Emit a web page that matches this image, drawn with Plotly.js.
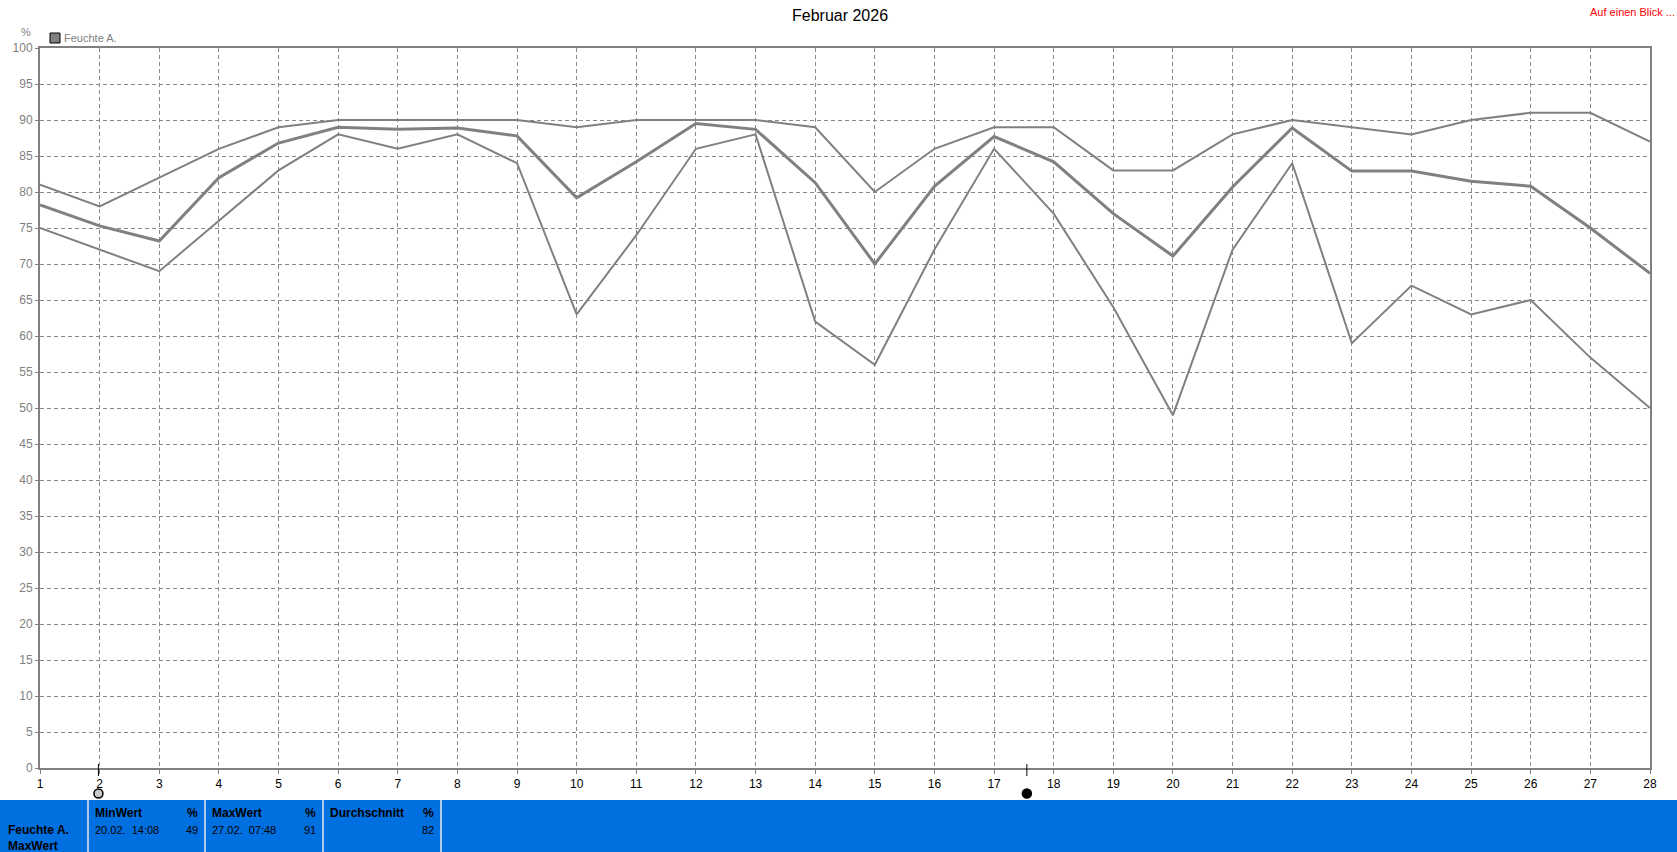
<!DOCTYPE html>
<html>
<head>
<meta charset="utf-8">
<script src="https://cdn.plot.ly/plotly-3.0.1.min.js"></script>
<style>
    html, body { margin: 0; padding: 0; background: #fff; overflow: hidden; }
    #chart { width: 1677px; height: 852px; }
</style>
</head>
<body>
<div id="chart"></div>
<script>
let days = [1, 2, 3, 4, 5, 6, 7, 8, 9, 10, 11, 12, 13, 14, 15, 16, 17, 18, 19, 20, 21, 22, 23, 24, 25, 26, 27, 28];
let maxValues = [81, 78, 82, 86, 89, 90, 90, 90, 90, 89, 90, 90, 90, 89, 80, 86, 89, 89, 83, 83, 88, 90, 89, 88, 90, 91, 91, 87];
let avgValues = [78.2, 75.3, 73.2, 82, 86.8, 89, 88.7, 88.9, 87.8, 79.2, 84.2, 89.5, 88.7, 81.3, 70, 80.8, 87.7, 84.2, 77, 71.1, 80.7, 88.9, 82.9, 82.9, 81.5, 80.8, 75, 68.7];
let minValues = [75, 72, 69, 76, 83, 88, 86, 88, 84, 63, 74, 86, 88, 62, 56, 72, 86, 77, 64, 49, 72, 84, 59, 67, 63, 65, 57, 50];

let moonDays = [1.98, 17.55];
let moonFills = ['#c8c8c8', '#000000'];

let seriesName = 'Feuchte A.';
let statHeads = ['MinWert', 'MaxWert', 'Durchschnitt'];
let statDates = ['20.02.\u00a0\u00a014:08', '27.02.\u00a0\u00a007:48', ''];
let statValues = ['49', '91', '82'];
let statUnit = '%';

let gray = '#808080';
let gridGray = '#888888';
let blue = '#006fdf';
let fontName = 'Liberation Sans, Arial, sans-serif';

let width = 1677;
let height = 852;
let margin = { l: 40, r: 27, t: 48, b: 84 };

// pixel -> paper helpers, everything outside the plot is placed with these
function px(x) {
    return (x - margin.l) / (width - margin.l - margin.r);
}

function py(y) {
    return (height - margin.b - y) / (height - margin.t - margin.b);
}

function label(text, x, y, opts) {
    opts = opts || {};
    return {
        text: opts.bold ? '<b>' + text + '</b>' : text,
        xref: 'paper',
        yref: 'paper',
        x: px(x),
        y: py(y),
        xanchor: opts.anchor || 'left',
        yanchor: 'middle',
        showarrow: false,
        align: opts.anchor || 'left',
        font: { family: fontName, size: opts.size || (opts.bold ? 12 : 11), color: opts.color || '#000' }
    };
}

function lineTrace(values, lineWidth) {
    return {
        x: days,
        y: values,
        type: 'scatter',
        mode: 'lines',
        line: { color: gray, width: lineWidth },
        showlegend: false,
        hoverinfo: 'x+y'
    };
}

let data = [lineTrace(maxValues, 2), lineTrace(minValues, 2), lineTrace(avgValues, 3)];

let shapes = [
    // blue footer and the separators
    { type: 'rect', xref: 'paper', yref: 'paper', x0: px(0), x1: px(width), y0: py(800), y1: py(height), fillcolor: blue, line: { width: 0 }, layer: 'below' },
    // legend box
    { type: 'rect', xref: 'paper', yref: 'paper', x0: px(50), x1: px(60), y0: py(33), y1: py(43), fillcolor: gray, line: { color: '#000', width: 1 } }
];

let separators = [88, 205, 323, 441];

for (let i = 0; i < separators.length; i++) {
    shapes.push({
        type: 'line', xref: 'paper', yref: 'paper',
        x0: px(separators[i]), x1: px(separators[i]), y0: py(800), y1: py(height),
        line: { color: '#e8e8e8', width: 1.5 }
    });
}

// moon phases: tick on the axis and a circle under it
for (let i = 0; i < moonDays.length; i++) {
    shapes.push({
        type: 'line', xref: 'x', yref: 'paper',
        x0: moonDays[i], x1: moonDays[i], y0: py(764), y1: py(776),
        line: { color: '#000', width: 1 }
    });
    shapes.push({
        type: 'circle', xref: 'x', yref: 'paper',
        xsizemode: 'pixel', ysizemode: 'pixel',
        xanchor: moonDays[i], yanchor: py(793.5),
        x0: -4.5, x1: 4.5, y0: -4.5, y1: 4.5,
        fillcolor: moonFills[i],
        line: { color: '#000', width: 1.5 }
    });
}

let annotations = [
    label('Februar 2026', 840, 16, { anchor: 'center', size: 16 }),
    label('Auf einen Blick ...', 1677, 12, { anchor: 'right', color: '#ff0000' }),
    label('%', 26, 32, { anchor: 'center', color: gray }),
    label(seriesName, 62, 38, { color: gray }),
    label(seriesName, 6, 830, { bold: true }),
    label('MaxWert', 6, 846, { bold: true })
];

for (let i = 0; i < statHeads.length; i++) {
    let left = separators[i] + 5;
    let right = separators[i + 1] - 5;

    annotations.push(label(statHeads[i], left, 813, { bold: true }));
    annotations.push(label(statUnit, right, 813, { bold: true, anchor: 'right' }));
    if (statDates[i] !== '') {
        annotations.push(label(statDates[i], left, 830));
    }
    annotations.push(label(statValues[i], right, 830, { anchor: 'right' }));
}

let layout = {
    width: width,
    height: height,
    margin: margin,
    paper_bgcolor: '#fff',
    plot_bgcolor: '#fff',
    showlegend: false,
    font: { family: fontName, size: 12, color: gray },
    xaxis: {
        range: [1, 28],
        tickmode: 'array',
        tickvals: days,
        ticktext: days.map(String),
        tickfont: { family: fontName, size: 12, color: '#000' },
        ticks: 'outside',
        ticklen: 4,
        tickcolor: gray,
        showline: true,
        mirror: true,
        linecolor: gray,
        linewidth: 2,
        showgrid: true,
        gridcolor: gridGray,
        griddash: '4px,3px',
        gridwidth: 1,
        zeroline: false,
        automargin: false
    },
    yaxis: {
        range: [0, 100],
        dtick: 5,
        tick0: 0,
        tickfont: { family: fontName, size: 12, color: gray },
        ticks: 'outside',
        ticklen: 3,
        tickcolor: gray,
        showline: true,
        mirror: true,
        linecolor: gray,
        linewidth: 2,
        showgrid: true,
        gridcolor: gridGray,
        griddash: '4px,3px',
        gridwidth: 1,
        zeroline: false,
        automargin: false
    },
    shapes: shapes,
    annotations: annotations
};

Plotly.newPlot('chart', data, layout, { displayModeBar: false });
</script>
</body>
</html>
